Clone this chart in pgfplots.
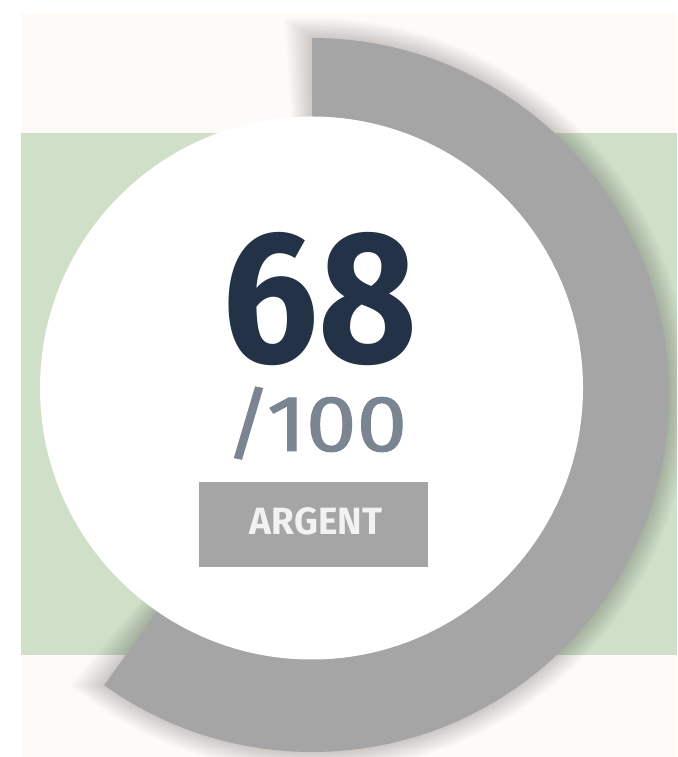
\documentclass[border=0pt]{standalone}
\usepackage{pgfplots}
\pgfplotsset{compat=1.18}
\usepackage{pgfplotstable}
\usepackage{graphicx}
\usepackage{fontspec}
\setmainfont{Fira Sans}

\definecolor{cream}{HTML}{FDFAF7}
\definecolor{greenband}{HTML}{D0E0C8}
\definecolor{arcgray}{HTML}{A5A5A5}
\definecolor{navy}{HTML}{243248}
\definecolor{slate}{HTML}{7B8491}
\definecolor{labeltext}{HTML}{F2F2F2}

% score data
\pgfplotstableread{
value maxv sweep
68 100 215.6
}\scoretable
\pgfplotstablegetelem{0}{sweep}\of\scoretable
\let\sweepangle\pgfplotsretval
\pgfmathsetmacro{\endang}{90-\sweepangle}

\begin{document}
\begin{tikzpicture}
\begin{axis}[
  x=1pt, y=1pt,
  xmin=0, xmax=677, ymin=0, ymax=757,
  hide axis, clip=true,
]
% backgrounds
\fill[white] (axis cs:0,0) rectangle (axis cs:677,757);
\fill[cream] (axis cs:21,0) rectangle (axis cs:677,744);
\fill[greenband] (axis cs:21,102) rectangle (axis cs:677,624);
% shadow
\pgfplotsinvokeforeach{1,...,12}{
  \fill[black, opacity=0.016] (axis cs:312,362) -- ++({90+0.35*#1}:{(357+1.7*#1)*1pt})
     arc[start angle={90+0.35*#1}, end angle={\endang-0.35*#1}, radius={(357+1.7*#1)*1pt}] -- cycle;
}
% gauge arc
\fill[arcgray] (axis cs:312,362) -- ++(90:357pt)
   arc[start angle=90, end angle=\endang, radius=357pt] -- cycle;
% inner white disc
\fill[white] (axis cs:311.5,369) circle[radius=271.5];
% texts
\node[anchor=base, inner sep=0pt, text=navy] at (axis cs:320,394)
  {\resizebox{195pt}{130pt}{\bfseries 68}};
\node[anchor=base, inner sep=0pt, text=slate] at (axis cs:316,306)
  {\resizebox{182pt}{64pt}{\addfontfeature{FakeBold=1.2}/100}};
\fill[arcgray] (axis cs:199,190) rectangle (axis cs:428,275);
\node[anchor=base, inner sep=0pt, text=labeltext] at (axis cs:316,222)
  {\resizebox{132pt}{27pt}{\bfseries ARGENT}};
\end{axis}
\pgfresetboundingbox
\path[use as bounding box] (current axis.south west) rectangle (current axis.north east);
\end{tikzpicture}
\end{document}
